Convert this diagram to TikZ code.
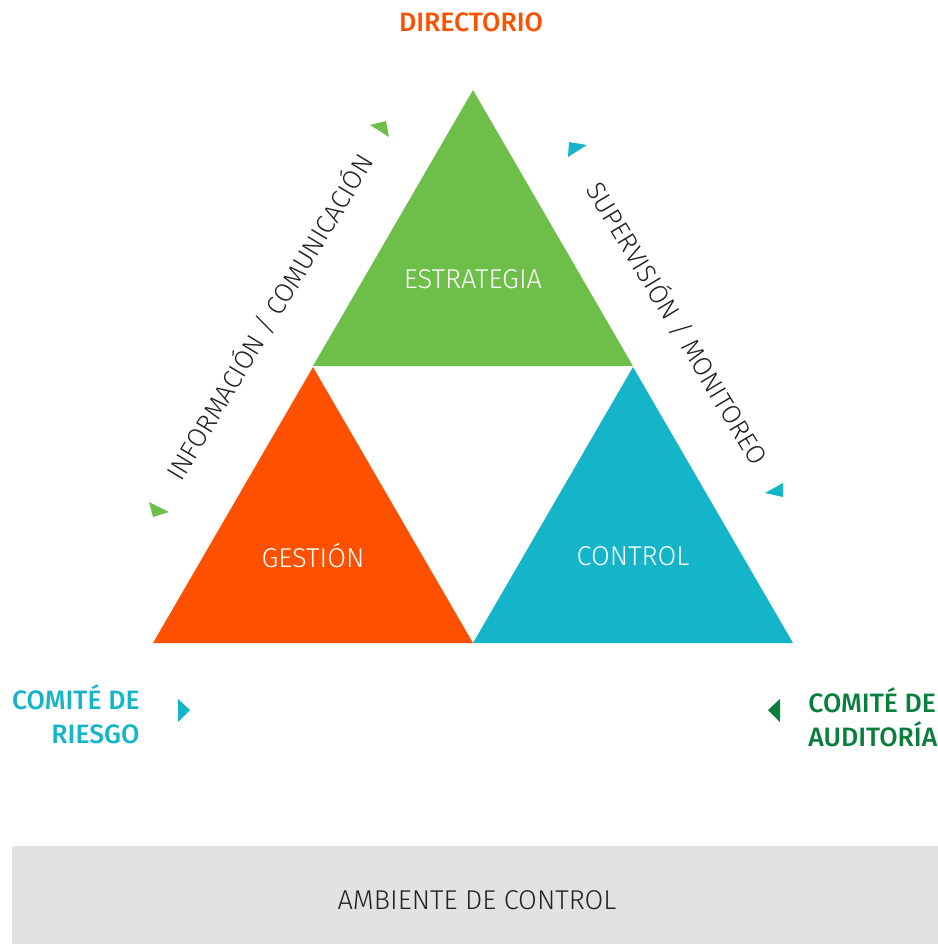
\documentclass[tikz,border=0pt]{standalone}
\usepackage{fontspec}
\setmainfont{Fira Sans}
\newfontfamily\lightfont{Fira Sans Light}
\newfontfamily\medfont{Fira Sans Medium}

\definecolor{verde}{RGB}{110,190,74}
\definecolor{naranja}{RGB}{255,80,0}
\definecolor{celeste}{RGB}{20,181,201}
\definecolor{verdeosc}{RGB}{10,127,61}
\definecolor{gris}{RGB}{226,226,226}
\definecolor{texto}{RGB}{34,34,34}

\def\side{320}
\def\high{276}

\begin{document}
\begin{tikzpicture}[x=0.5pt, y=-0.5pt,
    nodes = {inner sep=0pt, font=\lightfont\fontsize{13.6}{16}\selectfont},
    titulo/.style = {font=\medfont\fontsize{13.3}{17}\selectfont},
    lado/.style = {text=texto, font=\lightfont\fontsize{13.2}{16}\selectfont}]
  \useasboundingbox (0,0) rectangle (938,944);
  % Three triangles with their labels
  \foreach \x/\y/\col/\name/\txt in {
      473/90/verde/estr/ESTRATEGIA,
      313/367/naranja/gest/GESTIÓN,
      633/367/celeste/ctrl/CONTROL
    } {
      \fill[\col] (\x,\y) -- ++(-\side/2,\high) -- ++(\side,0) -- cycle;
      \node[text=white] (\name) at (\x,\y+189) {\txt};
    };
  % Side labels
  \node[lado, rotate=59] (info) at (269,317) {INFORMACIÓN / COMUNICACIÓN};
  \node[lado, rotate=-59] (superv) at (678,323) {SUPERVISIÓN / MONITOREO};
  % Small markers
  \fill[verde] (370,125) -- (386,121) -- (389,137) -- cycle;
  \fill[verde] (149,502) -- (169,512) -- (153,517) -- cycle;
  \fill[celeste] (569,142) -- (587,145) -- (568,157) -- cycle;
  \fill[celeste] (783,483) -- (783,497) -- (765,493) -- cycle;
  \fill[celeste] (178,699) -- (190,710) -- (178,722) -- cycle;
  \fill[verdeosc] (780,699) -- (768,710) -- (780,722) -- cycle;
  % Titles
  \node[titulo, text=naranja] (dir) at (471,22) {DIRECTORIO};
  \node[titulo, text=celeste, align=right, anchor=east] (riesgo) at (140,714)
    {COMITÉ DE\\RIESGO};
  \node[titulo, text=verdeosc, align=left, anchor=west] (audit) at (808,717)
    {COMITÉ DE\\AUDITORÍA};
  % Bottom bar
  \fill[gris] (12,846) rectangle (938,944);
  \node[text=texto] (amb) at (477,900) {AMBIENTE DE CONTROL};
\end{tikzpicture}
\end{document}
